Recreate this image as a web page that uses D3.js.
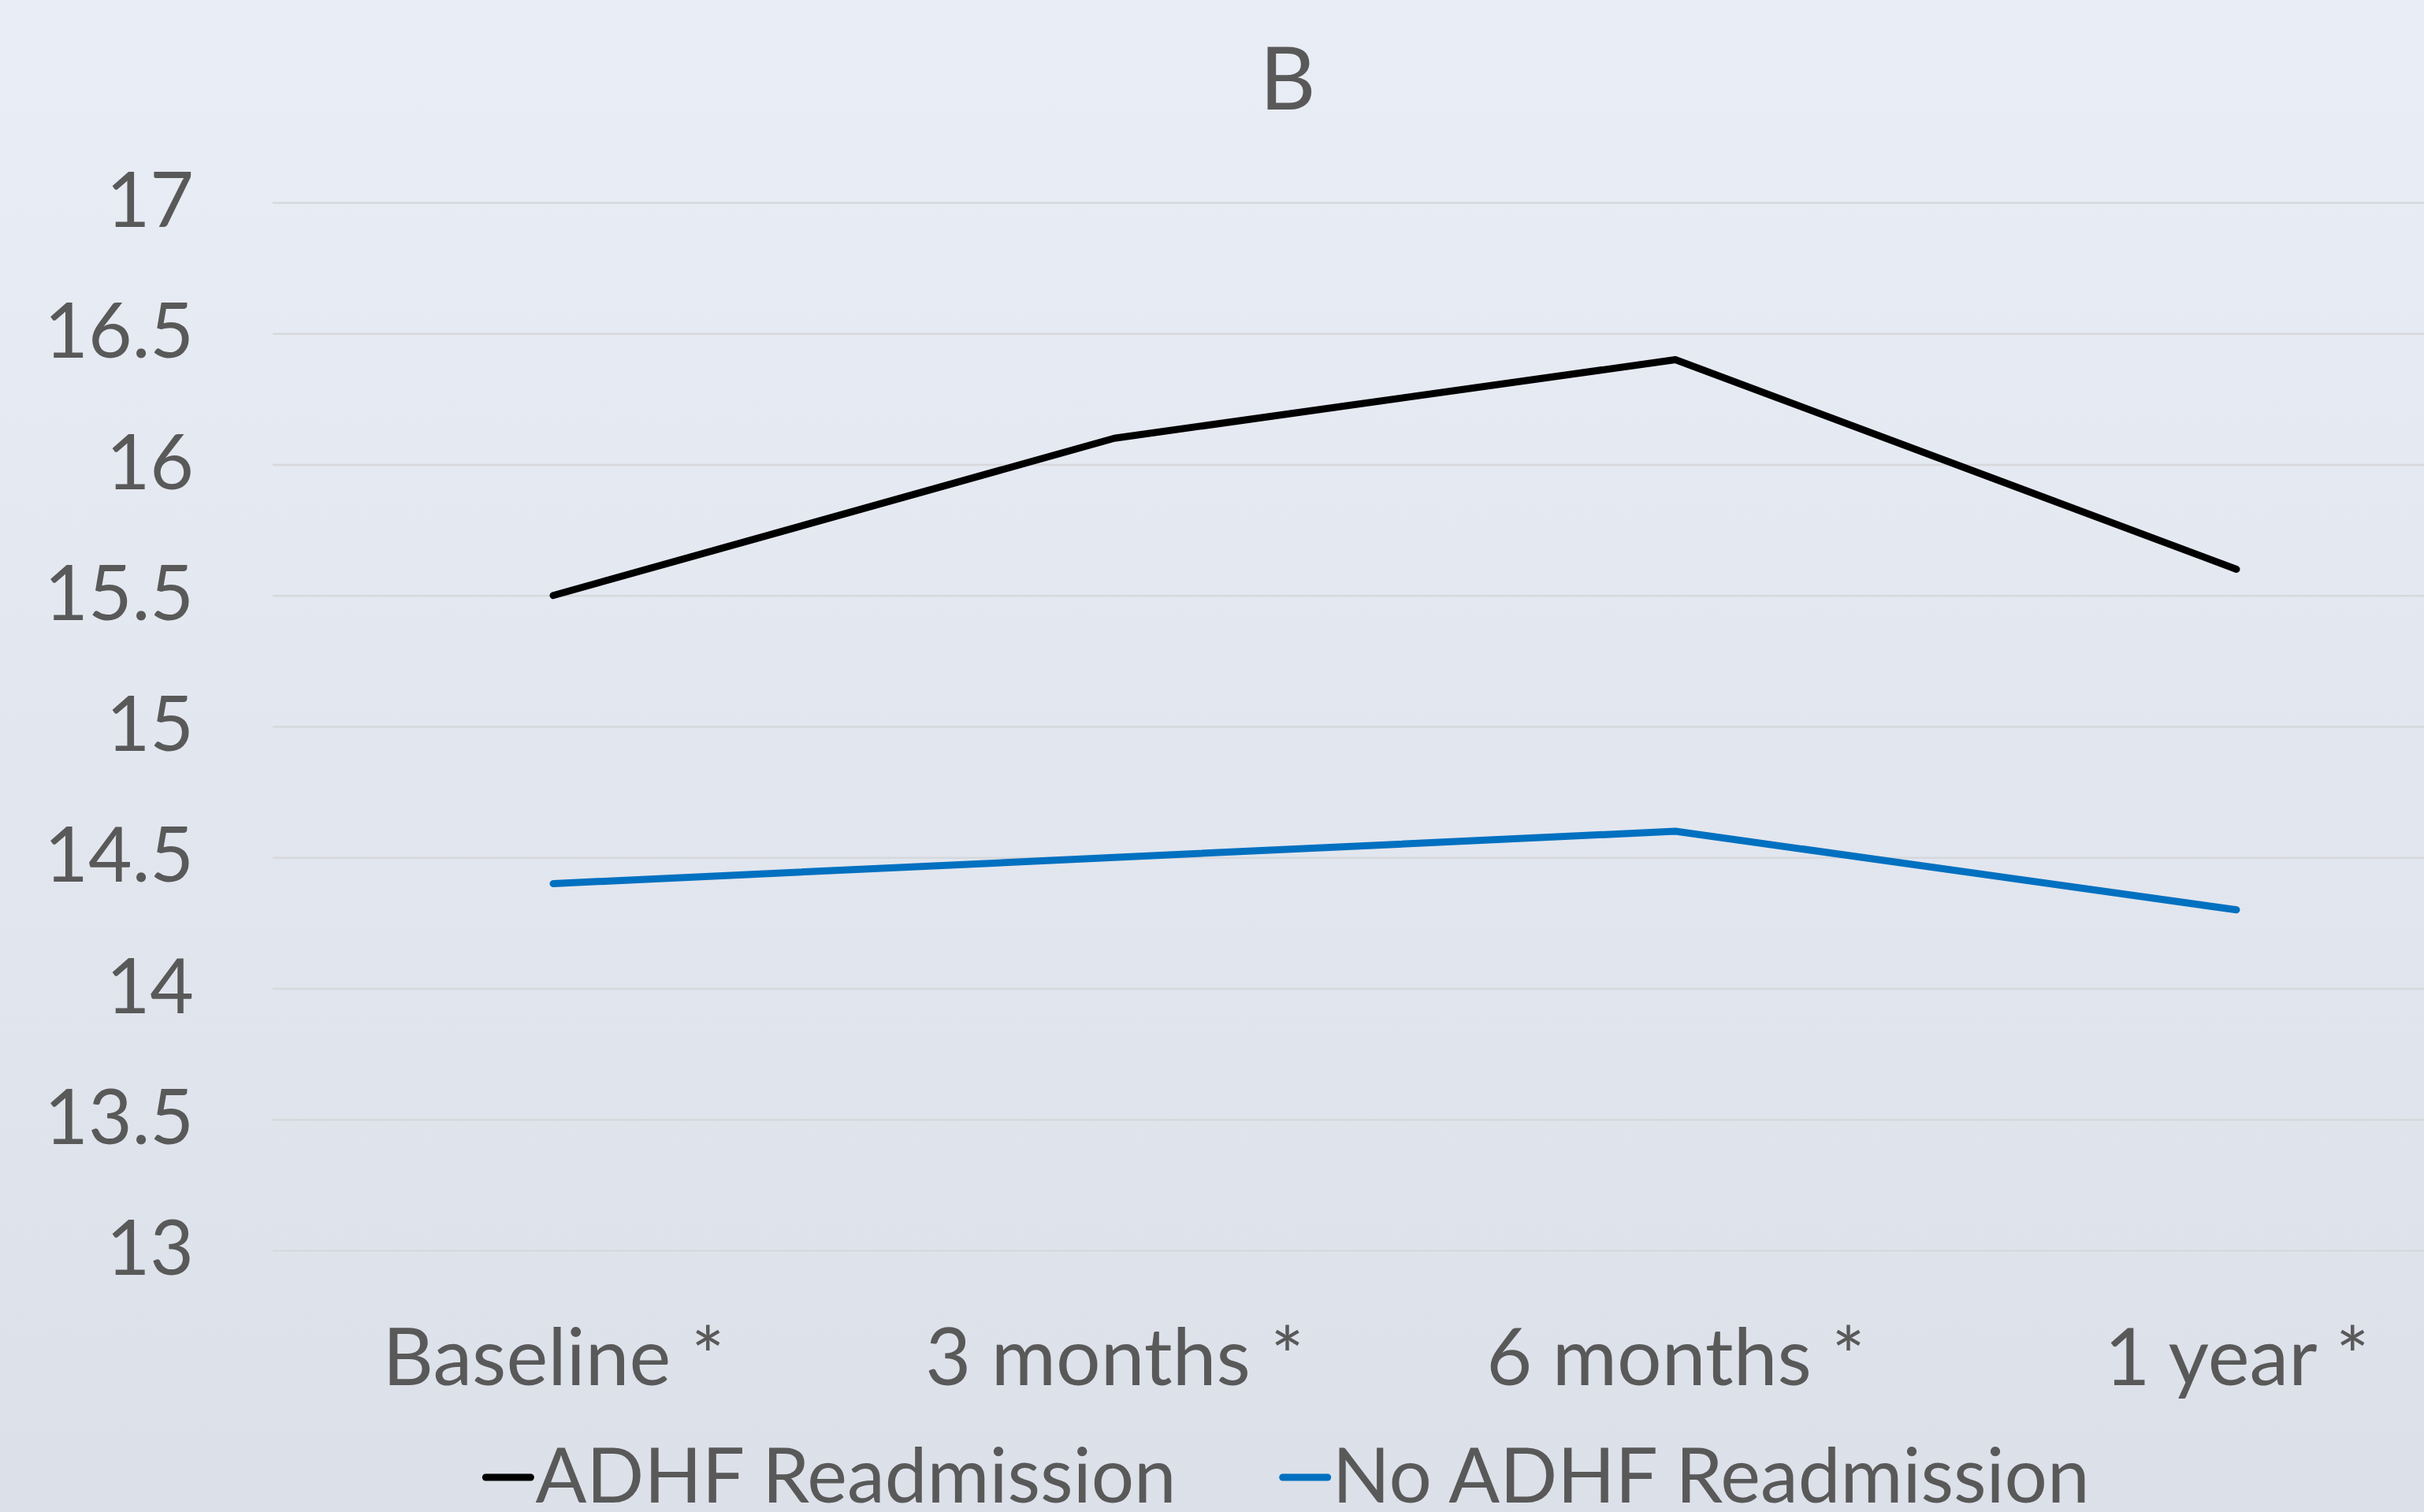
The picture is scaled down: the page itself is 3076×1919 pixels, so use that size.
<!DOCTYPE html>
<html>
<head>
<meta charset="utf-8">
<script src="https://cdn.jsdelivr.net/npm/d3@7"></script>
<style>
  html, body { margin: 0; padding: 0; overflow: hidden; }
  svg { display: block; }
</style>
</head>
<body>
<script>
// ---- Data ----
const categories = ["Baseline *", "3 months *", "6 months *", "1 year *"];
const adhfReadmission = [15.5, 16.1, 16.4, 15.6];
const noAdhfReadmission = [14.4, 14.5, 14.6, 14.3];
const yTicks = [13, 13.5, 14, 14.5, 15, 15.5, 16, 16.5, 17];
const seriesNames = ["ADHF Readmission", "No ADHF Readmission"];
const seriesColors = ["#000000", "#0070c0"];
const chartTitle = "B";

// ---- Layout ----
const W = 3076, H = 1919;
const plot = { left: 346, right: 3194, top: 257, bottom: 1587 };
const font = "Lato, 'Open Sans', sans-serif";
const textColor = "#595959";

const svg = d3.select("body").append("svg").attr("width", W).attr("height", H);

const defs = svg.append("defs");
const grad = defs.append("linearGradient").attr("id", "bg").attr("x1", 0).attr("y1", 0).attr("x2", 0).attr("y2", 1);
grad.append("stop").attr("offset", "0%").attr("stop-color", "#e9edf5");
grad.append("stop").attr("offset", "100%").attr("stop-color", "#dce0e9");
svg.append("rect").attr("width", W).attr("height", H).attr("fill", "url(#bg)");

const x = d3.scalePoint().domain(categories).range([plot.left, plot.right]).padding(0.5);
const y = d3.scaleLinear().domain([13, 17]).range([plot.bottom, plot.top]);

// Y axis with gridlines
const yAxis = svg.append("g")
  .attr("transform", `translate(${plot.left},0)`)
  .call(d3.axisLeft(y).tickValues(yTicks).tickFormat(d3.format("")).tickSize(-(plot.right - plot.left)).tickPadding(100));
yAxis.select(".domain").remove();
yAxis.selectAll(".tick line").attr("stroke", "#d6d8dc").attr("stroke-width", 2.5);
yAxis.selectAll(".tick text").attr("fill", textColor).attr("font-family", font).attr("font-size", 96);

// X axis labels
const xAxis = svg.append("g")
  .attr("transform", `translate(0,${plot.bottom})`)
  .call(d3.axisBottom(x).tickSize(0));
xAxis.select(".domain").remove();
xAxis.selectAll(".tick text").attr("fill", textColor).attr("font-family", font).attr("font-size", 100)
  .attr("dy", null).attr("y", 171);

// Lines
const series = [adhfReadmission, noAdhfReadmission];
const line = d3.line().x((d, i) => x(categories[i])).y(d => y(d));
svg.append("g").selectAll("path").data(series).join("path")
  .attr("d", d => line(d))
  .attr("fill", "none")
  .attr("stroke", (d, i) => seriesColors[i])
  .attr("stroke-width", 9)
  .attr("stroke-linecap", "round")
  .attr("stroke-linejoin", "round");

// Title
svg.append("text").attr("x", 1634).attr("y", 139).attr("text-anchor", "middle")
  .attr("fill", textColor).attr("font-family", font).attr("font-size", 110).text(chartTitle);

// Legend
const legend = svg.append("g");
const legendFont = 96, swatchW = 57, swatchGap = 6, itemGap = 135, legendY = 1907;
const items = legend.selectAll("g").data(seriesNames).join("g");
items.append("line").attr("x1", 0).attr("x2", swatchW).attr("y1", -32).attr("y2", -32)
  .attr("stroke", (d, i) => seriesColors[i]).attr("stroke-width", 9).attr("stroke-linecap", "round");
items.append("text").attr("x", swatchW + swatchGap).attr("y", 0)
  .attr("fill", textColor).attr("font-family", font).attr("font-size", legendFont).text(d => d);
const widths = [];
items.each(function() { widths.push(this.getBBox().width); });
const total = d3.sum(widths) + itemGap * (widths.length - 1);
let cx = 1634 - total / 2;
items.each(function(d, i) {
  d3.select(this).attr("transform", `translate(${cx},${legendY})`);
  cx += widths[i] + itemGap;
});
</script>
</body>
</html>
